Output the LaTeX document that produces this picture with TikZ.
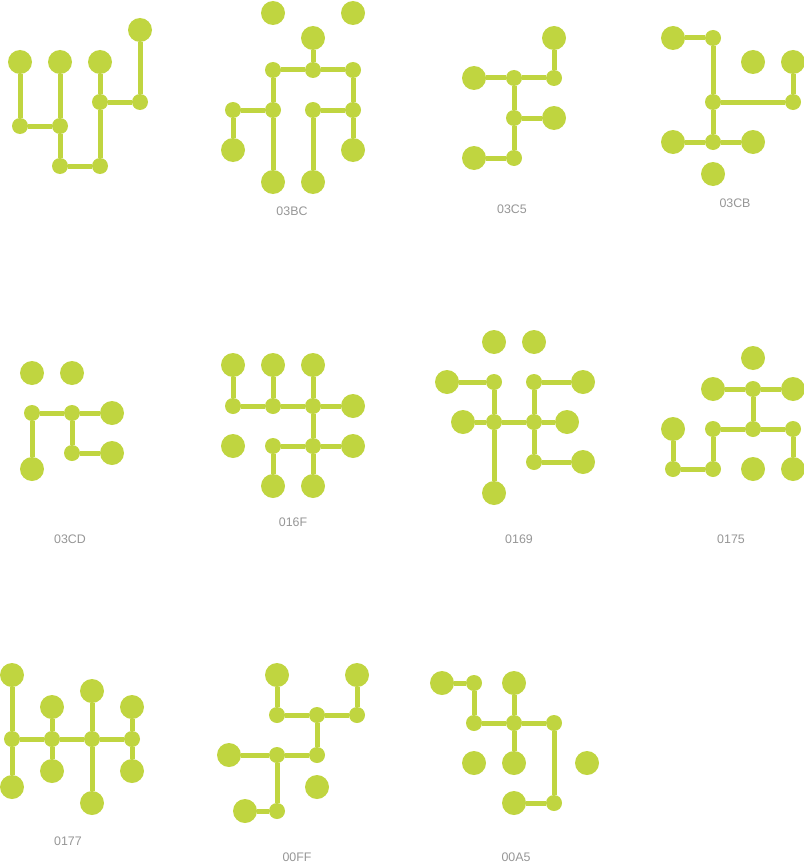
\documentclass[tikz,border=0pt]{standalone}
\usepackage{fontspec}
\setmainfont{Liberation Sans}
\definecolor{lime}{RGB}{192,213,64}
\definecolor{labelgray}{RGB}{150,150,150}
\begin{document}
\begin{tikzpicture}[x=0.75pt,y=-0.75pt,
  big/.style={circle,fill=lime,draw=none,minimum size=18pt,inner sep=0pt},
  dot/.style={circle,fill=lime,draw=none,minimum size=12pt,inner sep=0pt},
  link/.style={draw=lime,line width=3.75pt},
  lbl/.style={text=labelgray,font=\fontsize{9.3pt}{11pt}\selectfont,inner sep=0pt}]
\useasboundingbox (0,0) rectangle (803,867);
% ---------- glyph 1 ----------
\node[big] (a1) at (20,62) {};
\node[big] (a2) at (60,62) {};
\node[big] (a3) at (100,62) {};
\node[big] (a4) at (140,30) {};
\node[dot] (a5) at (20,126) {};
\node[dot] (a6) at (60,126) {};
\node[dot] (a7) at (60,166) {};
\node[dot] (a8) at (100,166) {};
\node[dot] (a9) at (100,102) {};
\node[dot] (a10) at (140,102) {};
\draw[link] (a1) -- (a5); \draw[link] (a5) -- (a6); \draw[link] (a2) -- (a6);
\draw[link] (a6) -- (a7); \draw[link] (a7) -- (a8); \draw[link] (a8) -- (a9);
\draw[link] (a9) -- (a3); \draw[link] (a9) -- (a10); \draw[link] (a10) -- (a4);
% ---------- 03BC ----------
\node[big] (b1) at (273,13) {};
\node[big] (b2) at (353,13) {};
\node[big] (b3) at (313,38) {};
\node[big] (b4) at (233,150) {};
\node[big] (b5) at (273,182) {};
\node[big] (b6) at (313,182) {};
\node[big] (b7) at (353,150) {};
\node[dot] (b8) at (273,70) {};
\node[dot] (b9) at (313,70) {};
\node[dot] (b10) at (353,70) {};
\node[dot] (b11) at (233,110) {};
\node[dot] (b12) at (273,110) {};
\node[dot] (b13) at (313,110) {};
\node[dot] (b14) at (353,110) {};
\draw[link] (b3) -- (b9); \draw[link] (b8) -- (b9); \draw[link] (b9) -- (b10);
\draw[link] (b8) -- (b12); \draw[link] (b12) -- (b5); \draw[link] (b11) -- (b12);
\draw[link] (b11) -- (b4); \draw[link] (b10) -- (b14); \draw[link] (b14) -- (b7);
\draw[link] (b13) -- (b14); \draw[link] (b13) -- (b6);
\node[lbl] (bl) at (292,211) {03BC};
% ---------- 03C5 ----------
\node[big] (c1) at (554,38) {};
\node[big] (c2) at (474,78) {};
\node[big] (c3) at (554,118) {};
\node[big] (c4) at (474,158) {};
\node[dot] (c5) at (514,78) {};
\node[dot] (c6) at (554,78) {};
\node[dot] (c7) at (514,118) {};
\node[dot] (c8) at (514,158) {};
\draw[link] (c2) -- (c5); \draw[link] (c5) -- (c6); \draw[link] (c6) -- (c1);
\draw[link] (c5) -- (c7); \draw[link] (c7) -- (c8); \draw[link] (c7) -- (c3);
\draw[link] (c4) -- (c8);
\node[lbl] (cl) at (512,209) {03C5};
% ---------- 03CB ----------
\node[big] (d1) at (673,38) {};
\node[big] (d2) at (753,62) {};
\node[big] (d3) at (793,62) {};
\node[big] (d4) at (673,142) {};
\node[big] (d5) at (753,142) {};
\node[big] (d6) at (713,174) {};
\node[dot] (d7) at (713,38) {};
\node[dot] (d8) at (713,102) {};
\node[dot] (d9) at (793,102) {};
\node[dot] (d10) at (713,142) {};
\draw[link] (d1) -- (d7); \draw[link] (d7) -- (d8); \draw[link] (d8) -- (d10);
\draw[link] (d8) -- (d9); \draw[link] (d9) -- (d3); \draw[link] (d4) -- (d10);
\draw[link] (d10) -- (d5);
\node[lbl] (dl) at (735,203) {03CB};
% ---------- 03CD ----------
\node[big] (e1) at (32,373) {};
\node[big] (e2) at (72,373) {};
\node[big] (e3) at (112,413) {};
\node[big] (e4) at (112,453) {};
\node[big] (e5) at (32,469) {};
\node[dot] (e6) at (32,413) {};
\node[dot] (e7) at (72,413) {};
\node[dot] (e8) at (72,453) {};
\draw[link] (e6) -- (e7); \draw[link] (e7) -- (e3); \draw[link] (e6) -- (e5);
\draw[link] (e7) -- (e8); \draw[link] (e8) -- (e4);
\node[lbl] (el) at (70,539) {03CD};
% ---------- 016F ----------
\node[big] (f1) at (233,365) {};
\node[big] (f2) at (273,365) {};
\node[big] (f3) at (313,365) {};
\node[big] (f4) at (353,406) {};
\node[big] (f5) at (233,446) {};
\node[big] (f6) at (353,446) {};
\node[big] (f7) at (273,486) {};
\node[big] (f8) at (313,486) {};
\node[dot] (f9) at (233,406) {};
\node[dot] (f10) at (273,406) {};
\node[dot] (f11) at (313,406) {};
\node[dot] (f12) at (273,446) {};
\node[dot] (f13) at (313,446) {};
\draw[link] (f1) -- (f9); \draw[link] (f2) -- (f10); \draw[link] (f3) -- (f11);
\draw[link] (f9) -- (f10); \draw[link] (f10) -- (f11); \draw[link] (f11) -- (f4);
\draw[link] (f11) -- (f13); \draw[link] (f13) -- (f8); \draw[link] (f12) -- (f13);
\draw[link] (f13) -- (f6); \draw[link] (f12) -- (f7);
\node[lbl] (fl) at (293,522) {016F};
% ---------- 0169 ----------
\node[big] (g1) at (494,342) {};
\node[big] (g2) at (534,342) {};
\node[big] (g3) at (447,382) {};
\node[big] (g4) at (583,382) {};
\node[big] (g5) at (463,422) {};
\node[big] (g6) at (567,422) {};
\node[big] (g7) at (583,462) {};
\node[big] (g8) at (494,493) {};
\node[dot] (g9) at (494,382) {};
\node[dot] (g10) at (534,382) {};
\node[dot] (g11) at (494,422) {};
\node[dot] (g12) at (534,422) {};
\node[dot] (g13) at (534,462) {};
\draw[link] (g3) -- (g9); \draw[link] (g9) -- (g11); \draw[link] (g11) -- (g8);
\draw[link] (g10) -- (g4); \draw[link] (g10) -- (g12); \draw[link] (g12) -- (g13);
\draw[link] (g5) -- (g11); \draw[link] (g11) -- (g12); \draw[link] (g12) -- (g6);
\draw[link] (g13) -- (g7);
\node[lbl] (gl) at (519,539) {0169};
% ---------- 0175 ----------
\node[big] (h1) at (753,358) {};
\node[big] (h2) at (713,389) {};
\node[big] (h3) at (793,389) {};
\node[big] (h4) at (673,429) {};
\node[big] (h5) at (753,469) {};
\node[big] (h6) at (793,469) {};
\node[dot] (h7) at (753,389) {};
\node[dot] (h8) at (713,429) {};
\node[dot] (h9) at (753,429) {};
\node[dot] (h10) at (793,429) {};
\node[dot] (h11) at (673,469) {};
\node[dot] (h12) at (713,469) {};
\draw[link] (h2) -- (h7); \draw[link] (h7) -- (h3); \draw[link] (h7) -- (h9);
\draw[link] (h8) -- (h9); \draw[link] (h9) -- (h10); \draw[link] (h10) -- (h6);
\draw[link] (h8) -- (h12); \draw[link] (h11) -- (h12); \draw[link] (h4) -- (h11);
\node[lbl] (hl) at (731,539) {0175};
% ---------- 0177 ----------
\node[big] (i1) at (12,675) {};
\node[big] (i2) at (52,707) {};
\node[big] (i3) at (92,691) {};
\node[big] (i4) at (132,707) {};
\node[big] (i5) at (12,787) {};
\node[big] (i6) at (52,771) {};
\node[big] (i7) at (132,771) {};
\node[big] (i8) at (92,803) {};
\node[dot] (i9) at (12,739) {};
\node[dot] (i10) at (52,739) {};
\node[dot] (i11) at (92,739) {};
\node[dot] (i12) at (132,739) {};
\draw[link] (i1) -- (i9); \draw[link] (i9) -- (i5);
\draw[link] (i9) -- (i10); \draw[link] (i10) -- (i11); \draw[link] (i11) -- (i12);
\draw[link] (i2) -- (i10); \draw[link] (i10) -- (i6);
\draw[link] (i3) -- (i11); \draw[link] (i11) -- (i8);
\draw[link] (i4) -- (i12); \draw[link] (i12) -- (i7);
\node[lbl] (il) at (68,841) {0177};
% ---------- 00FF ----------
\node[big] (j1) at (277,675) {};
\node[big] (j2) at (357,675) {};
\node[big] (j3) at (229,755) {};
\node[big] (j4) at (317,787) {};
\node[big] (j5) at (245,811) {};
\node[dot] (j6) at (277,715) {};
\node[dot] (j7) at (317,715) {};
\node[dot] (j8) at (357,715) {};
\node[dot] (j9) at (277,755) {};
\node[dot] (j10) at (317,755) {};
\node[dot] (j11) at (277,811) {};
\draw[link] (j1) -- (j6); \draw[link] (j6) -- (j7); \draw[link] (j7) -- (j8);
\draw[link] (j8) -- (j2); \draw[link] (j7) -- (j10); \draw[link] (j3) -- (j9);
\draw[link] (j9) -- (j10); \draw[link] (j9) -- (j11); \draw[link] (j5) -- (j11);
\node[lbl] (jl) at (297,857) {00FF};
% ---------- 00A5 ----------
\node[big] (k1) at (442,683) {};
\node[big] (k2) at (514,683) {};
\node[big] (k3) at (474,763) {};
\node[big] (k4) at (514,763) {};
\node[big] (k5) at (587,763) {};
\node[big] (k6) at (514,803) {};
\node[dot] (k7) at (474,683) {};
\node[dot] (k8) at (474,723) {};
\node[dot] (k9) at (514,723) {};
\node[dot] (k10) at (554,723) {};
\node[dot] (k11) at (554,803) {};
\draw[link] (k1) -- (k7); \draw[link] (k7) -- (k8); \draw[link] (k8) -- (k9);
\draw[link] (k9) -- (k10); \draw[link] (k2) -- (k9); \draw[link] (k9) -- (k4);
\draw[link] (k10) -- (k11); \draw[link] (k6) -- (k11);
\node[lbl] (kl) at (516,857) {00A5};
\end{tikzpicture}
\end{document}
